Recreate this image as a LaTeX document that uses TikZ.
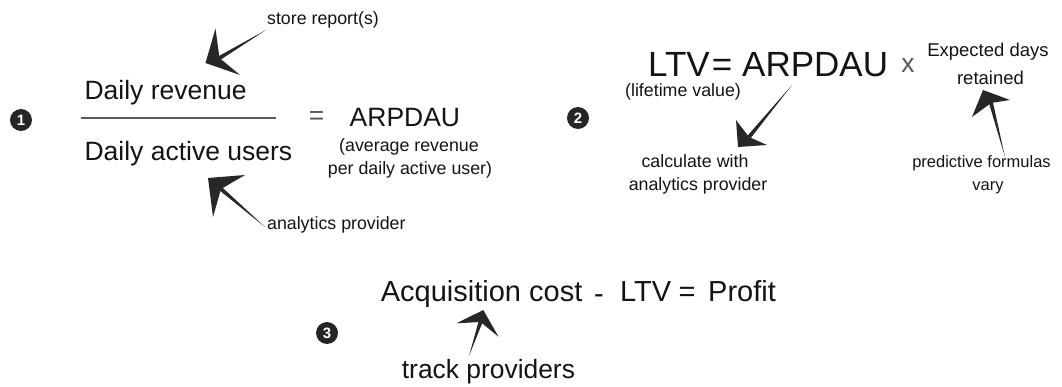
\documentclass[tikz,border=0pt]{standalone}
\usepackage{fontspec}
\setmainfont{Liberation Sans}
\usetikzlibrary{calc}
\newcommand{\setfs}[1]{\fontsize{#1}{#1}\selectfont}
\definecolor{ink}{HTML}{141414}
\definecolor{soft}{HTML}{5A5A5A}
\definecolor{badge}{HTML}{262626}
\tikzset{
  txt/.style={inner sep=0pt, text=ink},
  big/.style={txt, font=\setfs{26.5}},
  huge/.style={txt, font=\setfs{35}},
  small/.style={txt, font=\setfs{17.8}},
  badgecirc/.style={circle, fill=badge, minimum size=22pt, inner sep=0pt,
    text=white, font=\setfs{15}\bfseries},
  pointer/.style={fill=ink!92},
}
% sketched arrow: tail, tip, barb end 1, barb end 2, notch
\newcommand{\sketcharrow}[5]{%
  \fill[pointer] (#1) -- ($(#5)!2pt!90:(#1)$) -- ($(#5)!2pt!-90:(#1)$) -- cycle;
  \fill[pointer] (#2) -- (#3) -- (#5) -- (#4) -- cycle;
}
\begin{document}
\begin{tikzpicture}[x=1pt, y=-1pt]
\useasboundingbox (0,0) rectangle (1062,387);
\fill[white] (0,0) rectangle (1062,387);

% ---- formula 1: ARPDAU
\node[badgecirc] (n1) at (21,120) {1};
\node[small, anchor=base west] (store) at (266.9,24.5) {store report(s)};
\node[big, anchor=base west] (rev) at (84.4,100) {Daily revenue};
\node[big, anchor=base west] (dau) at (84.4,161) {Daily active users};
\coordinate (barL) at (81,118);
\coordinate (barR) at (275.5,118);
\draw[soft, line width=1.5pt] (barL) -- (barR);
\node[big, text=soft] (eq1) at (316.5,118) {=};
\node[big, anchor=base west] (arpdau1) at (349.5,127) {ARPDAU};
\node[small, anchor=base] (avg1) at (409,151.5) {(average revenue};
\node[small, anchor=base] (avg2) at (410,175) {per daily active user)};
\node[small, anchor=base west] (ana1) at (266.9,229.5) {analytics provider};

\coordinate (a1T) at (266,30);   \coordinate (a1P) at (205.5,63);
\coordinate (a1B) at (215.5,28.5); \coordinate (a1C) at (240,75);
\coordinate (a1N) at (219.5,58);
\sketcharrow{a1T}{a1P}{a1B}{a1C}{a1N}

\coordinate (a2T) at (265,227);  \coordinate (a2P) at (208,178);
\coordinate (a2B) at (245,175);  \coordinate (a2C) at (213,217);
\coordinate (a2N) at (221,189);
\sketcharrow{a2T}{a2P}{a2B}{a2C}{a2N}

% ---- formula 2: LTV
\node[badgecirc] (n2) at (578,118) {2};
\node[huge, anchor=base west] (ltv) at (648,77) {LTV};
\node[huge, anchor=base] (eq2) at (722,77) {=};
\node[huge, anchor=base west] (arpdau2) at (742,77) {ARPDAU};
\node[big, text=soft, anchor=base] (times) at (908,73) {x};
\node[txt, font=\setfs{18.5}, anchor=base] (exp1) at (988,57) {Expected days};
\node[txt, font=\setfs{18.5}, anchor=base] (exp2) at (990.5,84.5) {retained};
\node[small, anchor=base] (life) at (683,96.5) {(lifetime value)};
\node[small, anchor=base] (calc1) at (695,168) {calculate with};
\node[small, anchor=base] (calc2) at (698,191) {analytics provider};
\node[txt, font=\setfs{16.5}, anchor=base] (pred1) at (981.5,168) {predictive formulas};
\node[txt, font=\setfs{16.5}, anchor=base] (pred2) at (988,191) {vary};

\coordinate (a3T) at (792,85);   \coordinate (a3P) at (738,147);
\coordinate (a3B) at (736,120);  \coordinate (a3C) at (767,145);
\coordinate (a3N) at (749,137);
\sketcharrow{a3T}{a3P}{a3B}{a3C}{a3N}

\coordinate (a4T) at (1005,157); \coordinate (a4P) at (983,90);
\coordinate (a4B) at (972,117);  \coordinate (a4C) at (1010,100);
\coordinate (a4N) at (991,103);
\sketcharrow{a4T}{a4P}{a4B}{a4C}{a4N}

% ---- formula 3: profit
\node[badgecirc] (n3) at (327,333) {3};
\node[txt, font=\setfs{29}, anchor=base west] (acq) at (380.7,301.7) {Acquisition cost};
\node[txt, font=\setfs{29}, anchor=base] (minus) at (599,303) {-};
\node[txt, font=\setfs{29}, anchor=base west] (ltv3) at (620,301.7) {LTV};
\node[txt, font=\setfs{29}, anchor=base] (eq3) at (687,301.7) {=};
\node[txt, font=\setfs{29}, anchor=base west] (profit) at (708,301.7) {Profit};
\node[txt, font=\setfs{26.4}, anchor=base west] (track) at (401.7,378) {track providers};

\coordinate (a5T) at (469,356);  \coordinate (a5P) at (483.3,310);
\coordinate (a5B) at (456.5,323.3); \coordinate (a5C) at (498.5,336.7);
\coordinate (a5N) at (480.5,322);
\sketcharrow{a5T}{a5P}{a5B}{a5C}{a5N}
\end{tikzpicture}
\end{document}
